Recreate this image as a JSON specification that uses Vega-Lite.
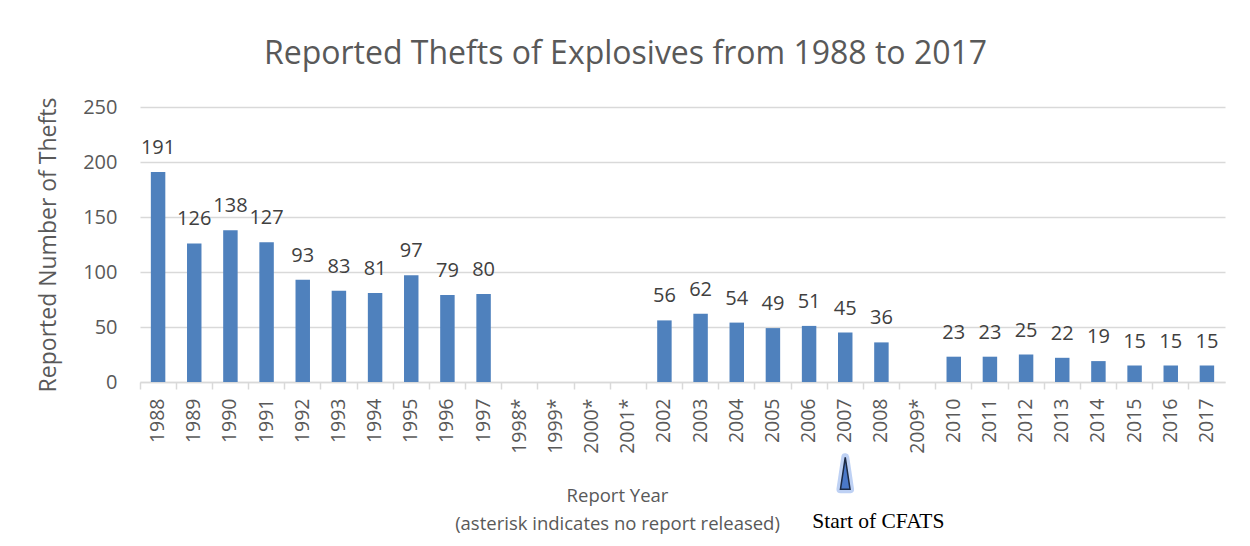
{
  "$schema": "https://vega.github.io/schema/vega-lite/v6.json",
  "autosize": {"type": "none"},
  "padding": {"left": 140, "top": 107, "right": 25, "bottom": 164},
  "width": 1085,
  "height": 275,
  "background": "white",
  "title": {
    "text": "Reported Thefts of Explosives from 1988 to 2017",
    "font": "Open Sans",
    "fontSize": 32,
    "fontWeight": "normal",
    "color": "#595959",
    "anchor": "middle",
    "baseline": "middle",
    "dx": -57,
    "offset": 11
  },
  "config": {
    "view": {"stroke": null},
    "font": "Open Sans"
  },
  "datasets": {
    "thefts": [
      {"year": "1988", "thefts": 191},
      {"year": "1989", "thefts": 126},
      {"year": "1990", "thefts": 138},
      {"year": "1991", "thefts": 127},
      {"year": "1992", "thefts": 93},
      {"year": "1993", "thefts": 83},
      {"year": "1994", "thefts": 81},
      {"year": "1995", "thefts": 97},
      {"year": "1996", "thefts": 79},
      {"year": "1997", "thefts": 80},
      {"year": "1998*", "thefts": null},
      {"year": "1999*", "thefts": null},
      {"year": "2000*", "thefts": null},
      {"year": "2001*", "thefts": null},
      {"year": "2002", "thefts": 56},
      {"year": "2003", "thefts": 62},
      {"year": "2004", "thefts": 54},
      {"year": "2005", "thefts": 49},
      {"year": "2006", "thefts": 51},
      {"year": "2007", "thefts": 45},
      {"year": "2008", "thefts": 36},
      {"year": "2009*", "thefts": null},
      {"year": "2010", "thefts": 23},
      {"year": "2011", "thefts": 23},
      {"year": "2012", "thefts": 25},
      {"year": "2013", "thefts": 22},
      {"year": "2014", "thefts": 19},
      {"year": "2015", "thefts": 15},
      {"year": "2016", "thefts": 15},
      {"year": "2017", "thefts": 15}
    ],
    "note": [
      {"year": "2007", "label": "Start of CFATS"}
    ]
  },
  "encoding": {
    "x": {
      "field": "year",
      "type": "nominal",
      "scale": {
        "domain": ["1988","1989","1990","1991","1992","1993","1994","1995","1996","1997","1998*","1999*","2000*","2001*","2002","2003","2004","2005","2006","2007","2008","2009*","2010","2011","2012","2013","2014","2015","2016","2017"],
        "paddingInner": 0,
        "paddingOuter": 0
      },
      "axis": {
        "title": ["Report Year", "(asterisk indicates no report released)"],
        "titleFont": "Open Sans",
        "titleFontSize": 18.5,
        "titleFontWeight": "normal",
        "titleColor": "#595959",
        "titleX": 477,
        "titleY": 104,
        "titleAlign": "center",
        "titleBaseline": "top",
        "titleLineHeight": 28,
        "labelAngle": -90,
        "labelFontSize": 19.5,
        "labelColor": "#595959",
        "labelPadding": 9,
        "bandPosition": 0,
        "tickSize": 7,
        "tickColor": "#d9d9d9",
        "tickWidth": 1.5,
        "domainColor": "#d9d9d9",
        "domainWidth": 1.5,
        "grid": false
      }
    }
  },
  "layer": [
    {
      "data": {"name": "thefts"},
      "mark": {"type": "bar", "color": "#4f81bd", "width": {"band": 0.4}},
      "encoding": {
        "y": {
          "field": "thefts",
          "type": "quantitative",
          "scale": {"domain": [0, 250], "nice": false},
          "axis": {
            "values": [0, 50, 100, 150, 200, 250],
            "title": "Reported Number of Thefts",
            "titleFont": "Open Sans",
            "titleFontSize": 23,
            "titleFontWeight": "normal",
            "titleColor": "#595959",
            "titleX": -92,
            "titleY": 137.5,
            "titleAngle": -90,
            "titleAlign": "center",
            "titleBaseline": "middle",
            "labelFontSize": 20,
            "labelColor": "#595959",
            "labelPadding": 23,
            "ticks": false,
            "domain": false,
            "grid": true,
            "gridColor": "#d9d9d9",
            "gridWidth": 1.5
          }
        }
      }
    },
    {
      "data": {"name": "thefts"},
      "mark": {"type": "text", "fontSize": 20, "color": "#404040", "baseline": "alphabetic", "dy": -18},
      "encoding": {
        "y": {"field": "thefts", "type": "quantitative"},
        "text": {"field": "thefts", "type": "quantitative"}
      }
    },
    {
      "data": {"name": "note"},
      "mark": {"type": "point", "shape": "M0,-1L0.3,1L-0.3,1Z", "filled": true, "size": 1024, "fill": "#5f8fe3", "fillOpacity": 0.8, "stroke": "#6f9ae6", "strokeWidth": 8, "strokeOpacity": 0.45, "strokeJoin": "round"},
      "encoding": {
        "y": {"datum": -83, "type": "quantitative"}
      }
    },
    {
      "data": {"name": "note"},
      "mark": {"type": "point", "shape": "M0,-1L0.3,1L-0.3,1Z", "filled": true, "size": 1024, "fill": "#4a78c8", "opacity": 1, "stroke": "#1c2a44", "strokeWidth": 1.5},
      "encoding": {
        "y": {"datum": -83, "type": "quantitative"}
      }
    },
    {
      "data": {"name": "note"},
      "mark": {"type": "text", "font": "Liberation Serif", "fontSize": 21.5, "color": "#000000", "align": "left", "baseline": "middle", "dx": -33},
      "encoding": {
        "y": {"datum": -127, "type": "quantitative"},
        "text": {"field": "label", "type": "nominal"}
      }
    }
  ]
}
